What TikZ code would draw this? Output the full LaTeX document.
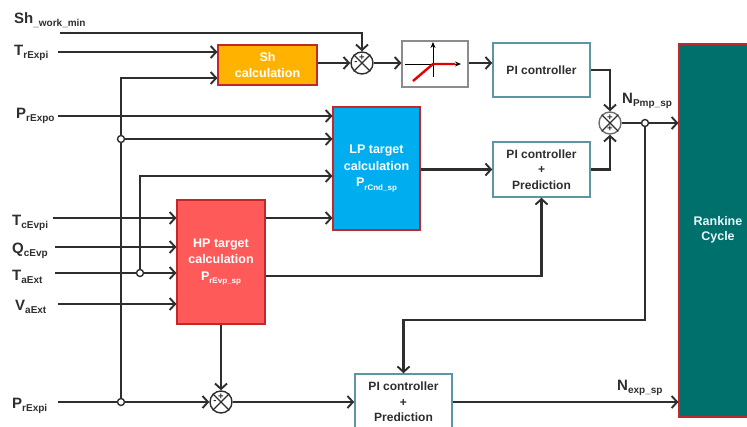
\documentclass[tikz,border=0pt]{standalone}
\usepackage{fontspec}
\setmainfont{Liberation Sans}
\usetikzlibrary{arrows.meta,calc}
\definecolor{wirec}{HTML}{2E2E2E}
\definecolor{shfill}{HTML}{FFB300}
\definecolor{lpfill}{HTML}{00AEEF}
\definecolor{hpfill}{HTML}{FF5A5A}
\definecolor{rkfill}{HTML}{00706C}
\definecolor{redline}{HTML}{C0282A}
\definecolor{piline}{HTML}{5E95A5}
\definecolor{satline}{HTML}{8C8C8C}
\newcommand{\sig}[2]{{\fontsize{15}{15}\selectfont\bfseries #1}\raisebox{-0.35em}{\fontsize{10}{10}\selectfont\bfseries #2}}
\newcommand{\bsig}[2]{#1\raisebox{-0.3em}{\fontsize{8}{8}\selectfont #2}}
\begin{document}
\begin{tikzpicture}[x=1pt,y=-1pt,
  wire/.style={draw=wirec, line width=2.2pt},
  arr/.style={wire, -{Straight Barb[length=5.5pt,width=12pt,line width=1.9pt]}},
  lab/.style={anchor=base west, inner sep=0pt, text=wirec},
  calcbox/.style={draw=redline, line width=1.1pt, text=white, font=\bfseries\fontsize{12.5}{16.5}\selectfont, align=center, inner sep=0pt},
  pibox/.style={draw=piline, line width=1.5pt, fill=white, text=wirec, font=\bfseries\fontsize{12}{15.5}\selectfont, align=center, inner sep=0pt, minimum width=97pt},
  summer/.style={circle, draw=wirec, line width=1.4pt, fill=white, minimum size=22pt, inner sep=0pt},
  junc/.style={circle, draw=wirec, line width=1.4pt, fill=white, minimum size=7pt, inner sep=0pt},
  sign/.style={font=\bfseries\fontsize{9.5}{9.5}\selectfont, inner sep=0pt, text=wirec}
]
\useasboundingbox (0,0) rectangle (747,426);

% ---- labels ----
\node[lab] (lsh)  at (14,23)  {\sig{Sh}{\_work\_min}};
\node[lab] (ltre) at (14,55)  {\sig{T}{rExpi}};
\node[lab] (lpre) at (16,118) {\sig{P}{rExpo}};
\node[lab] (ltce) at (12,225) {\sig{T}{cEvpi}};
\node[lab] (lqce) at (12,253) {\sig{Q}{cEvp}};
\node[lab] (ltae) at (12,280) {\sig{T}{aExt}};
\node[lab] (lvae) at (15,310) {\sig{V}{aExt}};
\node[lab] (lpri) at (12,408) {\sig{P}{rExpi}};

% ---- blocks ----
\node[calcbox, fill=shfill, minimum width=99pt, minimum height=40pt] (sh) at (267.5,65) {Sh\\calculation};
\node[calcbox, fill=lpfill, minimum width=87pt, minimum height=123pt] (lp) at (376.5,168.5) {LP target\\calculation\\\bsig{P}{rCnd\_sp}};
\node[calcbox, fill=hpfill, minimum width=88pt, minimum height=124pt] (hp) at (221,262) {HP target\\calculation\\\bsig{P}{rEvp\_sp}};
\node[pibox, minimum height=54pt] (pi1) at (541.5,70) {PI controller};
\node[pibox, minimum height=55pt] (pi2) at (541.5,169.5) {PI controller\\+\\Prediction};
\node[pibox, minimum height=56pt] (pi3) at (403.5,402) {PI controller\\+\\Prediction};
\node[draw=satline, line width=1.1pt, fill=white, minimum width=66pt, minimum height=46pt, inner sep=0pt] (sat) at (435,64) {};
\node[draw=redline, line width=1.1pt, fill=rkfill, minimum width=81pt, minimum height=373pt, inner sep=0pt] (rk) at (719.5,230.5) {};
\node[text=white!90!cyan, font=\bfseries\fontsize{12.5}{15.5}\selectfont, align=center] (rkt) at (718,230) {Rankine\\Cycle};

% saturation icon
\draw[-{Stealth[length=6pt,width=5pt]}, line width=0.9pt, black] (405,64) -- (461,64);
\draw[-{Stealth[length=6pt,width=5pt]}, line width=0.9pt, black] (433,77) -- (433,42);
\draw[red!90!black, line width=2.4pt] (413,81) -- (433,64) -- (455,64);

% ---- summers ----
\node[summer] (s1) at (362,63) {};
\node[summer] (s2) at (221,402) {};
\node[summer, draw=wirec!70] (s3) at (610,123) {};
\foreach \s in {s1,s2,s3}{
  \draw[wirec, line width=1.1pt] (\s.north east) -- (\s.south west) (\s.north west) -- (\s.south east);
}
\node[sign] at ($(s1.center)+(0,-5.5)$) {+};
\node[sign] at ($(s1.center)+(-6,0)$) {-};
\node[sign] at ($(s2.center)+(0,-5.5)$) {+};
\node[sign] at ($(s2.center)+(-6,0)$) {-};
\node[sign] at ($(s3.center)+(0,-5.5)$) {+};
\node[sign] at ($(s3.center)+(0,5.5)$) {+};

% ---- coordinates ----
\coordinate (cshw) at (60,33);
\coordinate (ctre) at (58,52);
\coordinate (cpre) at (58,116);
\coordinate (ctce) at (53,218);
\coordinate (cqce) at (55,247);
\coordinate (ctae) at (55,273);
\coordinate (cvae) at (58,304);
\coordinate (cpri) at (58,402);
\coordinate (cj1) at (121,139);
\coordinate (cj2) at (140,273);
\coordinate (cj3) at (121,402);
\coordinate (cj4) at (645,123);
\coordinate (ctop) at (121,78);
\coordinate (cmid) at (140,176);
\coordinate (cfb) at (645,320);

% ---- connectors ----
\draw[arr] (cshw) -| (s1.north);
\draw[arr] (ctre) -- (ctre -| sh.west);
\draw[arr] (cj3) -- (ctop) -- (ctop -| sh.west);
\draw[arr] (cpre) -- (cpre -| lp.west);
\draw[arr] (cj1) -- (cj1 -| lp.west);
\draw[arr] (cj2) -- (cmid) -- (cmid -| lp.west);
\draw[arr] (ctce) -- (ctce -| hp.west);
\draw[arr] (cqce) -- (cqce -| hp.west);
\draw[arr] (ctae) -- (ctae -| hp.west);
\draw[arr] (cvae) -- (cvae -| hp.west);
\draw[arr] (cpri) -- (s2.west);
\draw[arr] (hp.east |- 0,218) -- (lp.west |- 0,218);
\draw[arr] (hp.east |- 0,276) -| (pi2.south);
\draw[arr] (hp.south) -- (s2.north);
\draw[arr] (s2.east) -- (s2.east -| pi3.west);
\draw[arr] (sh.east |- s1) -- (s1.west);
\draw[arr] (s1.east) -- (s1.east -| sat.west);
\draw[arr] (sat.east |- 0,63) -- (pi1.west |- 0,63);
\draw[arr] (pi1.east) -| (s3.north);
\draw[arr] (lp.east |- pi2) -- (pi2.west);
\draw[arr] (pi2.east) -| (s3.south);
\draw[arr] (s3.east) -- (s3.east -| rk.west);
\draw[arr] (cj4) -- (cfb) -| (pi3.north);
\draw[arr] (pi3.east) -- (pi3.east -| rk.west);

% ---- junctions ----
\node[junc] (j1) at (cj1) {};
\node[junc] (j2) at (cj2) {};
\node[junc] (j3) at (cj3) {};
\node[junc] (j4) at (cj4) {};

% ---- signal labels ----
\node[lab] (lnp) at (622,103) {\sig{N}{Pmp\_sp}};
\node[lab] (lne) at (617,390) {\sig{N}{exp\_sp}};
\end{tikzpicture}
\end{document}
